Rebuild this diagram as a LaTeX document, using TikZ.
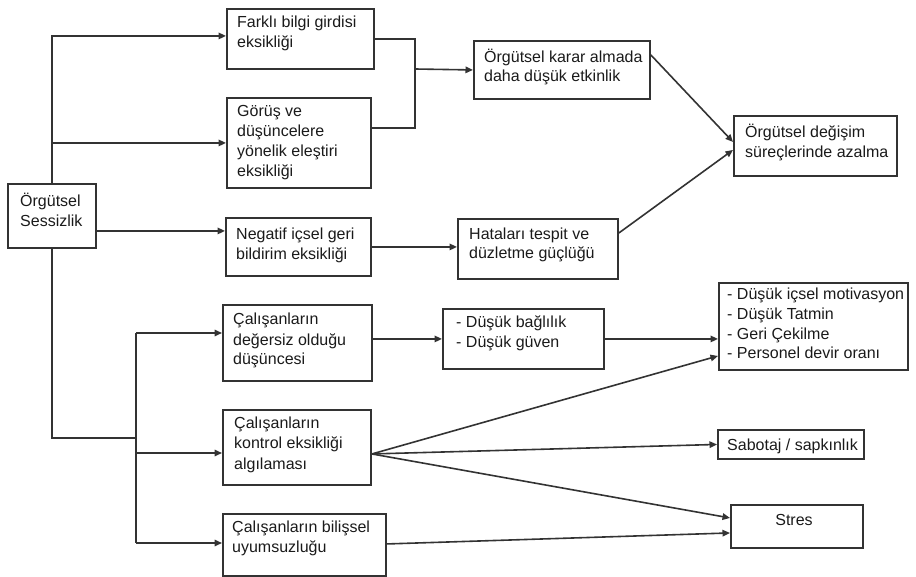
\documentclass[tikz,border=0pt]{standalone}
\usepackage{fontspec}
\setmainfont{Liberation Sans}
\usetikzlibrary{arrows.meta,calc}
\definecolor{ln}{HTML}{333333}
\definecolor{tx}{HTML}{1A1A1A}
\begin{document}
\begin{tikzpicture}[x=1pt,y=-1pt,
 box/.style={draw=ln, line width=1.9pt, inner sep=0, anchor=north west},
 txt/.style={anchor=base west, align=left, inner sep=0, text=tx, font=\fontsize{16}{20}\selectfont},
 conn/.style={draw=ln, line width=1.6pt},
 arr/.style={conn, -{Triangle[length=7.5pt,width=6.5pt]}}]
\useasboundingbox (0,0) rectangle (916,577);
% boxes
\node[box, minimum width=147pt, minimum height=60pt] (farkli) at (226,8) {};
\node[box, minimum width=144pt, minimum height=90pt] (gorus) at (226,97) {};
\node[box, minimum width=88pt, minimum height=64pt] (sess) at (7,183) {};
\node[box, minimum width=145pt, minimum height=58pt] (neg) at (225,217) {};
\node[box, minimum width=176pt, minimum height=58pt] (karar) at (473,40) {};
\node[box, minimum width=163pt, minimum height=60pt] (degisim) at (733,115) {};
\node[box, minimum width=160pt, minimum height=60pt] (hata) at (457,218) {};
\node[box, minimum width=149pt, minimum height=76pt] (deg) at (222,304) {};
\node[box, minimum width=148pt, minimum height=75pt] (kontrol) at (222,409) {};
\node[box, minimum width=163pt, minimum height=62pt] (bilis) at (222,513) {};
\node[box, minimum width=161pt, minimum height=60pt] (bag) at (442,308) {};
\node[box, minimum width=189pt, minimum height=87pt] (motiv) at (718,282) {};
\node[box, minimum width=146pt, minimum height=29pt] (sabotaj) at (717,429) {};
\node[box, minimum width=132pt, minimum height=43pt] (stres) at (730,504) {};
% texts (anchored at the baseline of the last line)
\node[txt] (farkli-t) at (237,48) {Farklı bilgi girdisi\\eksikliği};
\node[txt] (gorus-t) at (237,177) {Görüş ve\\düşüncelere\\yönelik eleştiri\\eksikliği};
\node[txt] (sess-t) at (20,227) {Örgütsel\\Sessizlik};
\node[txt] (neg-t) at (236,260) {Negatif içsel geri\\bildirim eksikliği};
\node[txt, font=\fontsize{16}{19.5}\selectfont] (karar-t) at (484,82) {Örgütsel karar almada\\daha düşük etkinlik};
\node[txt] (degisim-t) at (745,158) {Örgütsel değişim\\süreçlerinde azalma};
\node[txt, font=\fontsize{16}{19.5}\selectfont] (hata-t) at (469,259) {Hataları tespit ve\\düzletme güçlüğü};
\node[txt] (deg-t) at (233,365) {Çalışanların\\değersiz olduğu\\düşüncesi};
\node[txt, font=\fontsize{16}{20.5}\selectfont] (kontrol-t) at (234,469) {Çalışanların\\kontrol eksikliği\\algılaması};
\node[txt, font=\fontsize{16}{19.5}\selectfont] (bilis-t) at (232,552) {Çalışanların bilişsel\\uyumsuzluğu};
\node[txt] (bag-t) at (456,348) {- Düşük bağlılık\\- Düşük güven};
\node[txt, font=\fontsize{16}{19.7}\selectfont] (motiv-t) at (727,359) {- Düşük içsel motivasyon\\- Düşük Tatmin\\- Geri Çekilme\\- Personel devir oranı};
\node[txt] (sabotaj-t) at (727,450) {Sabotaj / sapkınlık};
\node[txt, anchor=base] (stres-t) at (794,525) {Stres};
% connectors
\draw[arr] (sess.north) |- ([yshift=3pt]farkli.west);
\draw[arr] (sess.north |- gorus.west) -- (gorus.west);
\draw[arr] ([yshift=-15pt]sess.east) -- ([yshift=-15pt]sess.east -| neg.west);
\coordinate (m) at (415,69);
\draw[conn] (farkli.east) -| (m);
\draw[conn] ([yshift=15pt]gorus.east) -| (m);
\draw[arr] (m) -- (karar.west);
\draw[arr] (neg.east) -- (neg.east -| hata.west);
\draw[arr] ([yshift=-15pt]karar.north east) -- ([yshift=4pt]degisim.west);
\draw[arr] ([yshift=16pt]hata.east) -- ([yshift=-4pt]degisim.west);
\coordinate (j1) at (136,438);
\coordinate (ja) at (136,333);
\coordinate (jb) at (136,453);
\coordinate (jc) at (136,543);
\draw[conn] (sess.south) |- (j1);
\draw[conn] (ja) -- (jc);
\draw[arr] (ja) -- (ja -| deg.west);
\draw[arr] (jb) -- (jb -| kontrol.west);
\draw[arr] (jc) -- (jc -| bilis.west);
\draw[arr] (bag.west -| deg.east) -- (bag.west);
\draw[arr] (bag.east) -- (bag.east -| motiv.west);
\draw[arr] ([yshift=-6.5pt]kontrol.east) -- ([yshift=-29.5pt]motiv.west);
\draw[arr] ([yshift=-6.5pt]kontrol.east) -- (sabotaj.west);
\draw[arr] ([yshift=-6.5pt]kontrol.east) -- ([yshift=8.5pt]stres.west);
\draw[arr] ([yshift=1pt]bilis.east) -- ([yshift=-6.5pt]stres.west);
\end{tikzpicture}
\end{document}
